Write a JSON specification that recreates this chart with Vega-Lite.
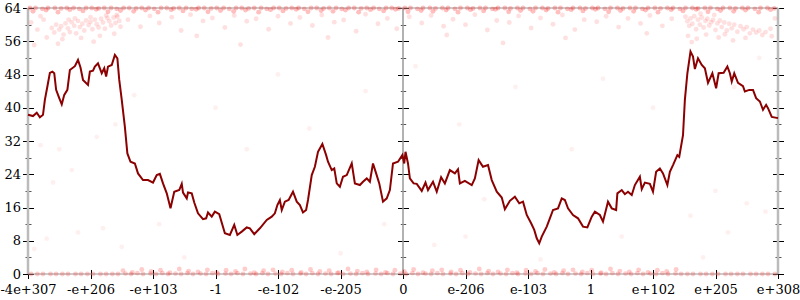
{
  "$schema": "https://vega.github.io/schema/vega-lite/v6.json",
  "width": 750,
  "height": 266,
  "autosize": {"type": "none"},
  "padding": {"left": 28, "top": 8, "right": 22, "bottom": 26},
  "background": "white",
  "config": {"view": {"stroke": null}, "font": "DejaVu Serif"},
  "datasets": {
    "top": [
      {"x":-5.97,"y":64},{"x":-5.88,"y":64},{"x":-5.77,"y":63.8},{"x":-5.68,"y":64},{"x":-5.57,"y":64},{"x":-5.47,"y":63.9},{"x":-5.38,"y":64},{"x":-5.27,"y":64},{"x":-5.18,"y":63.8},{"x":-5.07,"y":64},
      {"x":-4.98,"y":64},{"x":-4.87,"y":63.9},{"x":-4.78,"y":64},{"x":-4.67,"y":64},{"x":-4.58,"y":63.8},{"x":-4.47,"y":64},{"x":-4.38,"y":64},{"x":-4.27,"y":63.9},{"x":-4.18,"y":64},{"x":-4.07,"y":64},
      {"x":-3.98,"y":63.8},{"x":-3.87,"y":64},{"x":-3.78,"y":64},{"x":-3.67,"y":63.9},{"x":-3.58,"y":64},{"x":-3.47,"y":64},{"x":-3.38,"y":63.8},{"x":-3.27,"y":64},{"x":-3.18,"y":64},{"x":-3.07,"y":63.9},
      {"x":-2.98,"y":64},{"x":-2.87,"y":64},{"x":-2.78,"y":63.8},{"x":-2.67,"y":64},{"x":-2.58,"y":64},{"x":-2.47,"y":63.9},{"x":-2.38,"y":64},{"x":-2.27,"y":64},{"x":-2.18,"y":63.8},{"x":-2.07,"y":64},
      {"x":-1.98,"y":64},{"x":-1.87,"y":63.9},{"x":-1.78,"y":64},{"x":-1.67,"y":64},{"x":-1.58,"y":63.8},{"x":-1.47,"y":64},{"x":-1.38,"y":64},{"x":-1.27,"y":63.9},{"x":-1.18,"y":64},{"x":-1.07,"y":64},
      {"x":-0.98,"y":63.8},{"x":-0.87,"y":64},{"x":-0.78,"y":64},{"x":-0.67,"y":63.9},{"x":-0.58,"y":64},{"x":-0.47,"y":64},{"x":-0.38,"y":63.8},{"x":-0.27,"y":64},{"x":-0.18,"y":64},{"x":-0.07,"y":63.9},
      {"x":0.03,"y":64},{"x":0.12,"y":64},{"x":0.23,"y":63.8},{"x":0.32,"y":64},{"x":0.43,"y":64},{"x":0.52,"y":63.9},{"x":0.63,"y":64},{"x":0.72,"y":64},{"x":0.83,"y":63.8},{"x":0.92,"y":64},
      {"x":1.03,"y":64},{"x":1.12,"y":63.9},{"x":1.23,"y":64},{"x":1.32,"y":64},{"x":1.43,"y":63.8},{"x":1.52,"y":64},{"x":1.63,"y":64},{"x":1.72,"y":63.9},{"x":1.83,"y":64},{"x":1.92,"y":64},
      {"x":2.03,"y":63.8},{"x":2.12,"y":64},{"x":2.23,"y":64},{"x":2.32,"y":63.9},{"x":2.43,"y":64},{"x":2.52,"y":64},{"x":2.63,"y":63.8},{"x":2.72,"y":64},{"x":2.83,"y":64},{"x":2.92,"y":63.9},
      {"x":3.03,"y":64},{"x":3.12,"y":64},{"x":3.23,"y":63.8},{"x":3.32,"y":64},{"x":3.43,"y":64},{"x":3.52,"y":63.9},{"x":3.63,"y":64},{"x":3.72,"y":64},{"x":3.83,"y":63.8},{"x":3.92,"y":64},
      {"x":4.03,"y":64},{"x":4.12,"y":63.9},{"x":4.23,"y":64},{"x":4.32,"y":64},{"x":4.43,"y":63.8},{"x":4.52,"y":64},{"x":4.63,"y":64},{"x":4.72,"y":63.9},{"x":4.83,"y":64},{"x":4.92,"y":64},
      {"x":5.03,"y":63.8},{"x":5.12,"y":64},{"x":5.23,"y":64},{"x":5.32,"y":63.9},{"x":5.43,"y":64},{"x":5.52,"y":64},{"x":5.63,"y":63.8},{"x":5.72,"y":64},{"x":5.83,"y":64},{"x":5.94,"y":63.9},
      {"x":-5.92,"y":63.2},{"x":-5.71,"y":63.5},{"x":-5.52,"y":63.0},{"x":-5.33,"y":63.6},{"x":-5.12,"y":63.3},{"x":-4.91,"y":63.7},{"x":-4.72,"y":63.1},{"x":-4.52,"y":63.4},{"x":-4.31,"y":63.2},{"x":-4.12,"y":63.5},
      {"x":-3.92,"y":63.0},{"x":-3.71,"y":63.6},{"x":-3.52,"y":63.3},{"x":-3.31,"y":63.7},{"x":-3.12,"y":63.1},{"x":-2.92,"y":63.4},{"x":-2.71,"y":63.2},{"x":-2.52,"y":63.5},{"x":-2.31,"y":63.0},{"x":-2.12,"y":63.6},
      {"x":-1.92,"y":63.3},{"x":-1.71,"y":63.7},{"x":-1.52,"y":63.1},{"x":-1.31,"y":63.4},{"x":-1.12,"y":63.2},{"x":-0.92,"y":63.5},{"x":-0.71,"y":63.0},{"x":-0.52,"y":63.6},{"x":-0.31,"y":63.3},{"x":-0.12,"y":63.7},
      {"x":0.08,"y":63.1},{"x":0.29,"y":63.4},{"x":0.48,"y":63.2},{"x":0.69,"y":63.5},{"x":0.88,"y":63.0},{"x":1.08,"y":63.6},{"x":1.29,"y":63.3},{"x":1.48,"y":63.7},{"x":1.69,"y":63.1},{"x":1.88,"y":63.4},
      {"x":2.08,"y":63.2},{"x":2.29,"y":63.5},{"x":2.48,"y":63.0},{"x":2.69,"y":63.6},{"x":2.88,"y":63.3},{"x":3.08,"y":63.7},{"x":3.29,"y":63.1},{"x":3.48,"y":63.4},{"x":3.69,"y":63.2},{"x":3.88,"y":63.5},
      {"x":4.08,"y":63.0},{"x":4.29,"y":63.6},{"x":4.48,"y":63.3},{"x":4.69,"y":63.7},{"x":4.88,"y":63.1},{"x":5.08,"y":63.4},{"x":5.29,"y":63.2},{"x":5.48,"y":63.5},{"x":5.69,"y":63.0},{"x":5.88,"y":63.6}
    ],
    "bot": [
      {"x":-5.95,"y":0},{"x":-5.85,"y":0},{"x":-5.76,"y":0},{"x":-5.64,"y":0},{"x":-5.55,"y":0},{"x":-5.45,"y":0},{"x":-5.36,"y":0},{"x":-5.24,"y":0},{"x":-5.15,"y":0},{"x":-5.05,"y":0},
      {"x":-4.96,"y":0},{"x":-4.84,"y":0},{"x":-4.75,"y":0},{"x":-4.65,"y":0},{"x":-4.56,"y":0},{"x":-4.44,"y":0.1},{"x":-4.35,"y":0},{"x":-4.25,"y":0.2},{"x":-4.16,"y":0},{"x":-4.04,"y":0.1},
      {"x":-3.95,"y":0},{"x":-3.85,"y":0.2},{"x":-3.76,"y":0},{"x":-3.64,"y":0.1},{"x":-3.55,"y":0},{"x":-3.45,"y":0.2},{"x":-3.36,"y":0},{"x":-3.24,"y":0.1},{"x":-3.15,"y":0},{"x":-3.05,"y":0.2},
      {"x":-2.96,"y":0},{"x":-2.84,"y":0.1},{"x":-2.75,"y":0},{"x":-2.65,"y":0.2},{"x":-2.56,"y":0},{"x":-2.44,"y":0.1},{"x":-2.35,"y":0},{"x":-2.25,"y":0.2},{"x":-2.16,"y":0},{"x":-2.04,"y":0.1},
      {"x":-1.95,"y":0},{"x":-1.85,"y":0.2},{"x":-1.76,"y":0},{"x":-1.64,"y":0.1},{"x":-1.55,"y":0},{"x":-1.45,"y":0.2},{"x":-1.36,"y":0},{"x":-1.24,"y":0.1},{"x":-1.15,"y":0},{"x":-1.05,"y":0.2},
      {"x":-0.96,"y":0},{"x":-0.84,"y":0.1},{"x":-0.75,"y":0},{"x":-0.65,"y":0.2},{"x":-0.56,"y":0},{"x":-0.44,"y":0.1},{"x":-0.35,"y":0},{"x":-0.25,"y":0.2},{"x":-0.16,"y":0},{"x":-0.04,"y":0.1},
      {"x":0.05,"y":0},{"x":0.15,"y":0.2},{"x":0.24,"y":0},{"x":0.36,"y":0.1},{"x":0.45,"y":0},{"x":0.55,"y":0.2},{"x":0.64,"y":0},{"x":0.76,"y":0.1},{"x":0.85,"y":0},{"x":0.95,"y":0.2},
      {"x":1.04,"y":0},{"x":1.16,"y":0.1},{"x":1.25,"y":0},{"x":1.35,"y":0.2},{"x":1.44,"y":0},{"x":1.56,"y":0.1},{"x":1.65,"y":0},{"x":1.75,"y":0.2},{"x":1.84,"y":0},{"x":1.96,"y":0.1},
      {"x":2.05,"y":0},{"x":2.15,"y":0.2},{"x":2.24,"y":0},{"x":2.36,"y":0.1},{"x":2.45,"y":0},{"x":2.55,"y":0.2},{"x":2.64,"y":0},{"x":2.76,"y":0.1},{"x":2.85,"y":0},{"x":2.95,"y":0.2},
      {"x":3.04,"y":0},{"x":3.16,"y":0.1},{"x":3.25,"y":0},{"x":3.35,"y":0.2},{"x":3.44,"y":0},{"x":3.56,"y":0.1},{"x":3.65,"y":0},{"x":3.75,"y":0.2},{"x":3.84,"y":0},{"x":3.96,"y":0.1},
      {"x":4.05,"y":0},{"x":4.15,"y":0.2},{"x":4.24,"y":0},{"x":4.36,"y":0.1},{"x":4.45,"y":0},{"x":4.55,"y":0},{"x":4.64,"y":0},{"x":4.76,"y":0},{"x":4.85,"y":0},{"x":4.95,"y":0},
      {"x":5.04,"y":0},{"x":5.16,"y":0},{"x":5.25,"y":0},{"x":5.35,"y":0},{"x":5.44,"y":0},{"x":5.56,"y":0},{"x":5.65,"y":0},{"x":5.75,"y":0},{"x":5.84,"y":0},{"x":5.95,"y":0},
      {"x":-4.48,"y":0.8},{"x":-4.33,"y":0.4},{"x":-4.18,"y":1.1},{"x":-4.03,"y":0.6},{"x":-3.88,"y":0.9},{"x":-3.73,"y":0.3},{"x":-3.58,"y":1.2},{"x":-3.43,"y":0.7},{"x":-3.28,"y":0.5},{"x":-3.13,"y":1.0},
      {"x":-2.98,"y":0.4},{"x":-2.83,"y":0.9},{"x":-2.68,"y":0.6},{"x":-2.53,"y":1.2},{"x":-2.38,"y":0.3},{"x":-2.23,"y":0.8},{"x":-2.08,"y":1.0},{"x":-1.93,"y":0.5},{"x":-1.78,"y":0.9},{"x":-1.63,"y":0.4},
      {"x":-1.48,"y":1.1},{"x":-1.33,"y":0.6},{"x":-1.18,"y":0.8},{"x":-1.03,"y":0.3},{"x":-0.88,"y":1.2},{"x":-0.73,"y":0.7},{"x":-0.58,"y":0.5},{"x":-0.43,"y":1.0},{"x":-0.28,"y":0.4},{"x":-0.13,"y":0.9},
      {"x":0.02,"y":0.6},{"x":0.17,"y":1.1},{"x":0.32,"y":0.3},{"x":0.47,"y":0.8},{"x":0.62,"y":1.0},{"x":0.77,"y":0.5},{"x":0.92,"y":0.9},{"x":1.07,"y":0.4},{"x":1.22,"y":1.2},{"x":1.37,"y":0.7},
      {"x":1.52,"y":0.5},{"x":1.67,"y":1.0},{"x":1.82,"y":0.3},{"x":1.97,"y":0.9},{"x":2.12,"y":0.6},{"x":2.27,"y":1.1},{"x":2.42,"y":0.4},{"x":2.57,"y":0.8},{"x":2.72,"y":1.0},{"x":2.87,"y":0.5},
      {"x":3.02,"y":0.9},{"x":3.17,"y":0.3},{"x":3.32,"y":1.2},{"x":3.47,"y":0.7},{"x":3.62,"y":0.5},{"x":3.77,"y":1.0},{"x":3.92,"y":0.4},{"x":4.07,"y":0.9},{"x":4.22,"y":0.6},{"x":4.37,"y":1.1}
    ],
    "scat": [
      {"x":-5.62,"y":59.2},{"x":-5.58,"y":58.1},{"x":-5.55,"y":60.0},{"x":-5.5,"y":58.8},{"x":-5.47,"y":59.6},{"x":-5.43,"y":57.6},{"x":-5.4,"y":60.3},{"x":-5.36,"y":59.1},{"x":-5.33,"y":58.2},{"x":-5.3,"y":60.6},
      {"x":-5.26,"y":59.7},{"x":-5.23,"y":57.9},{"x":-5.2,"y":60.9},{"x":-5.17,"y":59.4},{"x":-5.13,"y":60.2},{"x":-5.1,"y":58.6},{"x":-5.07,"y":61.0},{"x":-5.03,"y":59.9},{"x":-5.0,"y":60.7},{"x":-4.97,"y":58.9},
      {"x":-4.93,"y":61.2},{"x":-4.9,"y":60.1},{"x":-4.87,"y":59.3},{"x":-4.83,"y":61.4},{"x":-4.8,"y":60.5},{"x":-4.77,"y":59.0},{"x":-4.73,"y":61.6},{"x":-4.7,"y":60.8},{"x":-4.67,"y":59.8},{"x":-4.63,"y":61.7},
      {"x":-4.6,"y":60.4},{"x":-4.57,"y":61.9},{"x":-4.54,"y":60.9},{"x":-4.52,"y":59.5},{"x":-5.45,"y":56.5},{"x":-5.15,"y":56.8},{"x":-4.85,"y":57.3},{"x":-4.62,"y":57.8},{"x":-5.35,"y":61.2},{"x":-5.0,"y":61.8},
      {"x":-4.75,"y":62.2},{"x":-5.52,"y":55.4},{"x":-4.95,"y":55.9},{"x":-5.25,"y":61.5},{"x":-4.58,"y":62.3},
      {"x":4.52,"y":61.9},{"x":4.55,"y":60.8},{"x":4.58,"y":59.7},{"x":4.6,"y":61.5},{"x":4.63,"y":60.2},{"x":4.66,"y":62.0},{"x":4.69,"y":58.9},{"x":4.72,"y":61.2},{"x":4.75,"y":60.0},{"x":4.78,"y":61.7},
      {"x":4.81,"y":59.3},{"x":4.84,"y":60.9},{"x":4.87,"y":61.4},{"x":4.9,"y":59.8},{"x":4.93,"y":60.6},{"x":4.96,"y":61.1},{"x":5.0,"y":58.7},{"x":5.03,"y":60.3},{"x":5.07,"y":61.0},{"x":5.1,"y":59.4},
      {"x":5.14,"y":60.5},{"x":5.18,"y":58.6},{"x":5.22,"y":60.2},{"x":5.26,"y":59.1},{"x":5.3,"y":60.0},{"x":5.35,"y":58.3},{"x":5.4,"y":59.6},{"x":5.45,"y":58.9},{"x":5.5,"y":59.4},{"x":5.55,"y":57.9},
      {"x":5.6,"y":58.8},{"x":5.65,"y":58.1},{"x":5.7,"y":58.6},{"x":5.75,"y":57.5},{"x":5.8,"y":58.2},{"x":4.56,"y":57.3},{"x":4.7,"y":56.6},{"x":4.85,"y":57.6},{"x":5.05,"y":56.9},{"x":5.28,"y":56.2},
      {"x":5.48,"y":56.8},{"x":4.62,"y":55.8},{"x":5.15,"y":57.7},{"x":4.98,"y":62.3},{"x":4.76,"y":62.6},
      {"x":-4.4,"y":61.2},{"x":-4.2,"y":59.5},{"x":-4.05,"y":62.1},{"x":-3.9,"y":60.4},{"x":-3.7,"y":61.8},{"x":-3.55,"y":58.6},{"x":-3.4,"y":62.4},{"x":-3.2,"y":60.9},{"x":-3.05,"y":61.6},{"x":-2.85,"y":59.3},
      {"x":-2.7,"y":62.2},{"x":-2.5,"y":60.8},{"x":-2.35,"y":61.4},{"x":-2.15,"y":58.9},{"x":-2.0,"y":62.0},{"x":-1.8,"y":60.3},{"x":-1.65,"y":61.7},{"x":-1.45,"y":59.8},{"x":-1.3,"y":62.3},{"x":-1.1,"y":60.6},
      {"x":-0.95,"y":61.1},{"x":-0.75,"y":58.4},{"x":-0.6,"y":62.5},{"x":-0.4,"y":60.2},{"x":-0.25,"y":61.5},{"x":-0.1,"y":59.0},{"x":0.1,"y":61.9},{"x":0.3,"y":60.4},{"x":0.45,"y":62.2},{"x":0.65,"y":59.6},
      {"x":0.8,"y":61.3},{"x":1.0,"y":60.0},{"x":1.15,"y":62.4},{"x":1.35,"y":58.7},{"x":1.5,"y":61.0},{"x":1.7,"y":60.5},{"x":1.85,"y":62.1},{"x":2.05,"y":59.2},{"x":2.2,"y":61.6},{"x":2.4,"y":60.1},
      {"x":2.55,"y":62.3},{"x":2.75,"y":58.8},{"x":2.9,"y":61.2},{"x":3.1,"y":60.7},{"x":3.25,"y":62.0},{"x":3.45,"y":59.4},{"x":3.6,"y":61.5},{"x":3.8,"y":60.3},{"x":3.95,"y":62.2},{"x":4.15,"y":59.7},
      {"x":4.3,"y":61.4},{"x":-3.3,"y":57.3},{"x":-1.2,"y":56.9},{"x":0.7,"y":57.5},{"x":2.6,"y":56.8},{"x":3.9,"y":57.9},{"x":-2.6,"y":55.2},{"x":1.6,"y":55.6},
      {"x":-5.95,"y":60.5},{"x":-5.85,"y":58.8},{"x":-5.75,"y":61.2},{"x":-5.7,"y":56.9},{"x":-5.9,"y":55.1},{"x":-5.8,"y":62.0},{"x":5.88,"y":59.0},{"x":5.95,"y":61.5},{"x":5.9,"y":57.2}
    ],
    "sparse": [
      {"x":-5.5,"y":30},{"x":-5.3,"y":25},{"x":-5.8,"y":31},{"x":-5.6,"y":22},{"x":-4.9,"y":33},{"x":-4.6,"y":36},{"x":-4.3,"y":43},{"x":-5.7,"y":8.5},{"x":-5.2,"y":10},{"x":-4.8,"y":11},
      {"x":-5.9,"y":6},{"x":-4.5,"y":6.5},{"x":-3.9,"y":12},{"x":-3.0,"y":40},{"x":-2.5,"y":30},{"x":-2.0,"y":48},{"x":-1.5,"y":35},{"x":-1.0,"y":5},{"x":-0.6,"y":44},{"x":-0.3,"y":12},
      {"x":0.2,"y":50},{"x":0.5,"y":7},{"x":0.9,"y":36},{"x":1.3,"y":18},{"x":1.8,"y":45},{"x":2.2,"y":3.5},{"x":2.7,"y":30},{"x":3.2,"y":47},{"x":3.5,"y":9},{"x":4.0,"y":40},
      {"x":4.6,"y":14},{"x":5.0,"y":20},{"x":5.2,"y":10},{"x":5.5,"y":17},{"x":5.7,"y":52},{"x":5.8,"y":15},{"x":5.3,"y":45},{"x":4.8,"y":4},{"x":-3.5,"y":4},{"x":1.0,"y":9}
    ],
    "line": [
      {"x":-6.0,"e":38.3},{"x":-5.92,"e":38.0},{"x":-5.86,"e":38.8},{"x":-5.81,"e":37.7},{"x":-5.76,"e":38.3},{"x":-5.73,"e":41.9},{"x":-5.69,"e":45.1},{"x":-5.65,"e":48.4},{"x":-5.61,"e":48.7},{"x":-5.58,"e":48.3},
      {"x":-5.55,"e":44.3},{"x":-5.5,"e":42.3},{"x":-5.46,"e":40.8},{"x":-5.42,"e":43.1},{"x":-5.37,"e":44.3},{"x":-5.33,"e":49.1},{"x":-5.25,"e":50.0},{"x":-5.2,"e":51.5},{"x":-5.16,"e":49.7},{"x":-5.12,"e":46.7},
      {"x":-5.04,"e":45.5},{"x":-5.01,"e":48.7},{"x":-4.96,"e":48.9},{"x":-4.93,"e":49.9},{"x":-4.88,"e":50.7},{"x":-4.82,"e":48.3},{"x":-4.78,"e":49.5},{"x":-4.75,"e":47.5},{"x":-4.72,"e":49.9},{"x":-4.66,"e":50.3},
      {"x":-4.61,"e":52.7},{"x":-4.57,"e":51.9},{"x":-4.54,"e":46.7},{"x":-4.5,"e":41.9},{"x":-4.45,"e":35.4},{"x":-4.41,"e":29.0},{"x":-4.36,"e":27.0},{"x":-4.29,"e":26.6},{"x":-4.24,"e":24.2},{"x":-4.16,"e":22.6},
      {"x":-4.08,"e":22.6},{"x":-4.0,"e":22.0},{"x":-3.94,"e":23.8},{"x":-3.89,"e":24.1},{"x":-3.84,"e":21.8},{"x":-3.78,"e":19.4},{"x":-3.72,"e":15.8},{"x":-3.66,"e":19.8},{"x":-3.58,"e":20.2},{"x":-3.54,"e":21.7},
      {"x":-3.52,"e":19.6},{"x":-3.46,"e":18.2},{"x":-3.44,"e":19.6},{"x":-3.38,"e":19.4},{"x":-3.34,"e":17.2},{"x":-3.28,"e":14.6},{"x":-3.2,"e":13.2},{"x":-3.15,"e":13.4},{"x":-3.12,"e":14.8},{"x":-3.06,"e":13.8},
      {"x":-3.01,"e":15.0},{"x":-2.94,"e":14.4},{"x":-2.85,"e":9.8},{"x":-2.77,"e":9.4},{"x":-2.7,"e":11.8},{"x":-2.65,"e":9.4},{"x":-2.58,"e":10.2},{"x":-2.5,"e":11.2},{"x":-2.45,"e":11.0},{"x":-2.38,"e":9.6},
      {"x":-2.29,"e":11.0},{"x":-2.18,"e":13.0},{"x":-2.1,"e":13.8},{"x":-2.05,"e":14.6},{"x":-2.01,"e":16.6},{"x":-1.97,"e":17.8},{"x":-1.94,"e":15.4},{"x":-1.89,"e":17.4},{"x":-1.83,"e":17.8},{"x":-1.76,"e":19.8},
      {"x":-1.7,"e":17.4},{"x":-1.65,"e":16.6},{"x":-1.6,"e":14.8},{"x":-1.55,"e":15.4},{"x":-1.52,"e":17.8},{"x":-1.46,"e":23.8},{"x":-1.41,"e":25.8},{"x":-1.36,"e":29.4},{"x":-1.29,"e":31.3},{"x":-1.23,"e":28.6},
      {"x":-1.2,"e":27.0},{"x":-1.14,"e":25.0},{"x":-1.1,"e":25.4},{"x":-1.06,"e":21.8},{"x":-1.01,"e":21.0},{"x":-0.96,"e":23.4},{"x":-0.9,"e":23.8},{"x":-0.82,"e":26.6},{"x":-0.77,"e":21.8},{"x":-0.69,"e":21.4},
      {"x":-0.64,"e":22.2},{"x":-0.58,"e":23.0},{"x":-0.53,"e":22.2},{"x":-0.48,"e":26.6},{"x":-0.43,"e":24.2},{"x":-0.38,"e":21.8},{"x":-0.32,"e":17.4},{"x":-0.26,"e":18.2},{"x":-0.21,"e":20.2},{"x":-0.16,"e":26.6},
      {"x":-0.08,"e":27.0},{"x":-0.01,"e":28.6},{"x":0.02,"e":26.6},{"x":0.04,"e":29.4},{"x":0.08,"e":26.6},{"x":0.11,"e":23.0},{"x":0.17,"e":21.8},{"x":0.22,"e":21.7},{"x":0.3,"e":20.0},{"x":0.36,"e":22.0},
      {"x":0.4,"e":20.2},{"x":0.48,"e":22.2},{"x":0.54,"e":19.8},{"x":0.61,"e":23.3},{"x":0.67,"e":21.8},{"x":0.75,"e":25.0},{"x":0.83,"e":24.2},{"x":0.88,"e":25.2},{"x":0.91,"e":21.8},{"x":0.99,"e":22.4},
      {"x":1.1,"e":21.4},{"x":1.15,"e":23.0},{"x":1.21,"e":27.4},{"x":1.28,"e":25.8},{"x":1.36,"e":26.2},{"x":1.42,"e":22.6},{"x":1.5,"e":19.8},{"x":1.58,"e":18.4},{"x":1.63,"e":15.6},{"x":1.71,"e":17.6},
      {"x":1.79,"e":18.6},{"x":1.86,"e":17.0},{"x":1.92,"e":17.4},{"x":1.98,"e":14.2},{"x":2.05,"e":12.2},{"x":2.1,"e":10.6},{"x":2.14,"e":8.6},{"x":2.18,"e":7.4},{"x":2.22,"e":9.0},{"x":2.3,"e":11.4},
      {"x":2.35,"e":13.4},{"x":2.4,"e":15.4},{"x":2.48,"e":15.8},{"x":2.54,"e":18.2},{"x":2.59,"e":17.8},{"x":2.64,"e":15.8},{"x":2.72,"e":14.2},{"x":2.8,"e":13.4},{"x":2.88,"e":11.4},{"x":2.95,"e":11.2},
      {"x":3.02,"e":13.8},{"x":3.07,"e":15.0},{"x":3.15,"e":14.2},{"x":3.2,"e":12.6},{"x":3.28,"e":17.4},{"x":3.34,"e":15.8},{"x":3.41,"e":15.4},{"x":3.43,"e":19.4},{"x":3.5,"e":20.2},{"x":3.55,"e":19.2},
      {"x":3.6,"e":19.8},{"x":3.66,"e":19.0},{"x":3.71,"e":21.4},{"x":3.79,"e":23.4},{"x":3.82,"e":20.4},{"x":3.87,"e":22.0},{"x":3.95,"e":21.7},{"x":4.0,"e":19.8},{"x":4.05,"e":24.6},{"x":4.11,"e":25.4},
      {"x":4.16,"e":24.2},{"x":4.23,"e":21.4},{"x":4.27,"e":24.6},{"x":4.32,"e":26.2},{"x":4.39,"e":28.6},{"x":4.42,"e":28.2},{"x":4.48,"e":33.4},{"x":4.51,"e":41.9},{"x":4.55,"e":48.3},{"x":4.6,"e":53.5},
      {"x":4.64,"e":52.3},{"x":4.67,"e":49.3},{"x":4.72,"e":51.9},{"x":4.78,"e":50.3},{"x":4.83,"e":49.5},{"x":4.88,"e":46.0},{"x":4.95,"e":48.3},{"x":5.01,"e":44.7},{"x":5.05,"e":48.3},{"x":5.13,"e":48.4},
      {"x":5.19,"e":49.9},{"x":5.23,"e":48.3},{"x":5.26,"e":46.3},{"x":5.3,"e":48.3},{"x":5.36,"e":46.0},{"x":5.44,"e":45.2},{"x":5.47,"e":43.9},{"x":5.54,"e":44.3},{"x":5.6,"e":44.3},{"x":5.65,"e":42.3},
      {"x":5.71,"e":41.5},{"x":5.76,"e":39.5},{"x":5.81,"e":40.7},{"x":5.84,"e":39.9},{"x":5.9,"e":37.8},{"x":6.0,"e":37.5}
    ]
  },
  "layer": [
    {
      "data": {"values": [{"x": -6}, {"x": 6}]},
      "mark": {"type": "rule", "color": "#bbbbbb", "strokeWidth": 2.5},
      "encoding": {"x": {"field": "x", "type": "quantitative", "scale": {"domain": [-6, 6]}, "axis": null}}
    },
    {
      "data": {"values": [{"x": 0}]},
      "mark": {"type": "rule", "color": "#999999", "strokeWidth": 1.5},
      "encoding": {"x": {"field": "x", "type": "quantitative", "scale": {"domain": [-6, 6]}, "axis": null}}
    },
    {
      "data": {"values": [{"y": 0}, {"y": 64}]},
      "mark": {"type": "rule", "color": "#999999", "strokeWidth": 1},
      "encoding": {"y": {"field": "y", "type": "quantitative", "scale": {"domain": [0, 64]},
        "axis": {"orient": "left", "offset": -380.5, "values": [0,8,16,24,32,40,48,56,64], "tickSize": 11, "tickColor": "#000", "domain": false, "labels": false, "grid": false, "title": null}}}
    },
    {
      "data": {"name": "top"},
      "mark": {"type": "circle", "color": "#ff0000", "opacity": 0.25, "size": 24},
      "encoding": {
        "x": {"field": "x", "type": "quantitative", "scale": {"domain": [-6, 6]},
          "axis": {"orient": "bottom", "offset": -4.5, "values": [-6,-5,-4,-3,-2,-1,0,1,2,3,4,5,6], "tickSize": 9, "tickColor": "#000", "domain": false, "grid": false, "title": null,
            "labelExpr": "['-4e+307','-e+206','-e+103','-1','-e-102','-e-205','0','e-206','e-103','1','e+102','e+205','e+308'][datum.value + 6]",
            "labelFlush": false, "labelOverlap": false, "labelBound": false, "labelPadding": 5, "labelFont": "DejaVu Serif", "labelFontSize": 13, "labelColor": "#000"}},
        "y": {"field": "y", "type": "quantitative", "scale": {"domain": [0, 64]},
          "axis": {"orient": "left", "offset": -5.5, "values": [0,8,16,24,32,40,48,56,64], "tickSize": 11, "tickColor": "#000", "domain": false, "grid": false, "title": null,
            "labelPadding": 2, "labelOverlap": false, "labelFont": "DejaVu Serif", "labelFontSize": 13, "labelColor": "#000"}}
      }
    },
    {
      "data": {"name": "bot"},
      "mark": {"type": "circle", "color": "#ff0000", "opacity": 0.2, "size": 24},
      "encoding": {
        "x": {"field": "x", "type": "quantitative", "scale": {"domain": [-6, 6]}, "axis": null},
        "y": {"field": "y", "type": "quantitative", "scale": {"domain": [0, 64]},
          "axis": {"orient": "left", "offset": -377.7, "values": [4,12,20,28,36,44,52,60], "tickSize": 5.4, "tickColor": "#555", "domain": false, "labels": false, "grid": false, "title": null}}
      }
    },
    {
      "data": {"name": "scat"},
      "mark": {"type": "circle", "color": "#ff0000", "opacity": 0.12, "size": 24},
      "encoding": {
        "x": {"field": "x", "type": "quantitative", "scale": {"domain": [-6, 6]}, "axis": null},
        "y": {"field": "y", "type": "quantitative", "scale": {"domain": [0, 64]},
          "axis": {"orient": "left", "offset": -3, "values": [4,12,20,28,36,44,52,60], "tickSize": 6, "tickColor": "#555", "domain": false, "labels": false, "grid": false, "title": null}}
      }
    },
    {
      "data": {"name": "sparse"},
      "mark": {"type": "circle", "color": "#ff0000", "opacity": 0.06, "size": 24},
      "encoding": {
        "x": {"field": "x", "type": "quantitative", "scale": {"domain": [-6, 6]}, "axis": null},
        "y": {"field": "y", "type": "quantitative", "scale": {"domain": [0, 64]},
          "axis": {"orient": "right", "offset": -5.5, "values": [0,8,16,24,32,40,48,56,64], "tickSize": 11, "tickColor": "#000", "domain": false, "labels": false, "grid": false, "title": null}}
      }
    },
    {
      "data": {"name": "line"},
      "mark": {"type": "line", "color": "#8b0000", "strokeWidth": 2},
      "encoding": {
        "x": {"field": "x", "type": "quantitative", "scale": {"domain": [-6, 6]}, "axis": null},
        "y": {"field": "e", "type": "quantitative", "scale": {"domain": [0, 64]},
          "axis": {"orient": "right", "offset": -3, "values": [4,12,20,28,36,44,52,60], "tickSize": 6, "tickColor": "#555", "domain": false, "labels": false, "grid": false, "title": null}}
      }
    }
  ],
  "resolve": {"axis": {"x": "independent", "y": "independent"}}
}
